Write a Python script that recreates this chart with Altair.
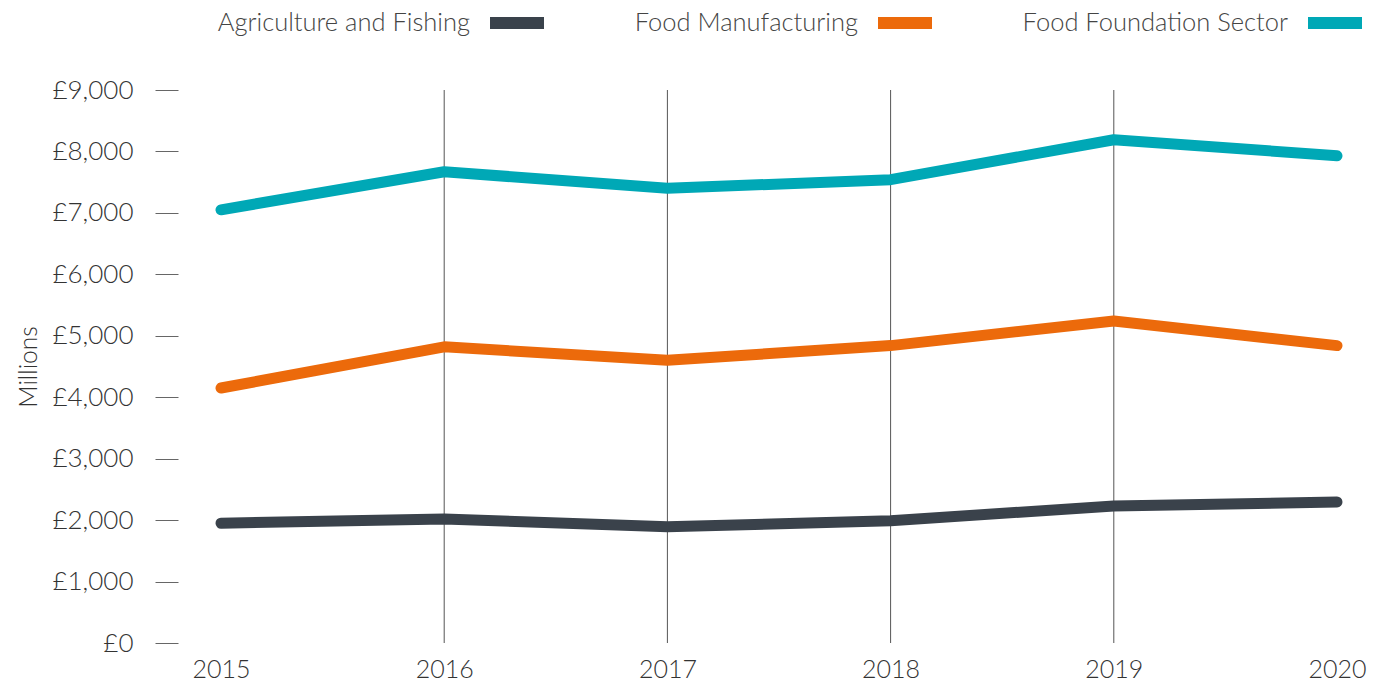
import altair as alt
import pandas as pd

years = [2015, 2016, 2017, 2018, 2019, 2020]
agri = [1950, 2020, 1890, 1990, 2230, 2295]
manu = [4150, 4820, 4600, 4840, 5240, 4840]
found = [7050, 7670, 7400, 7540, 8190, 7930]
series = ["Agriculture and Fishing", "Food Manufacturing", "Food Foundation Sector"]
colors = ["#3a424b", "#ec6a0b", "#00a8b6"]
grid_years = [2016, 2017, 2018, 2019]

rows = []
for name, vals in zip(series, [agri, manu, found]):
    for y, v in zip(years, vals):
        rows.append({"year": y, "value": v, "series": name})
df = pd.DataFrame(rows)
gdf = pd.DataFrame({"year": grid_years, "lo": [0] * 4, "hi": [9000] * 4})

FONT = "Lato"
W = 300

x = alt.X("year:Q", scale=alt.Scale(domain=[2015, 2020], nice=False, zero=False),
          axis=alt.Axis(values=years, format="d", title=None, grid=False, domain=False,
                        ticks=False, tickSize=0, labelPadding=14, labelFontSize=25,
                        labelFlush=False,
                        labelColor="#333333", labelFont=FONT, labelFontWeight=W))

grid = alt.Chart(gdf).mark_rule(color="#555555", strokeWidth=1).encode(
    x=alt.X("year:Q", scale=alt.Scale(domain=[2015, 2020], nice=False, zero=False)),
    y=alt.Y("lo:Q", scale=alt.Scale(domain=[0, 9000], nice=False)),
    y2="hi:Q",
)

lines = alt.Chart(df).mark_line(strokeWidth=11, strokeCap="round", strokeJoin="round").encode(
    x=x,
    y=alt.Y("value:Q", scale=alt.Scale(domain=[0, 9000], nice=False),
            axis=alt.Axis(values=list(range(0, 9001, 1000)),
                          labelExpr="'£' + format(datum.value, ',')", title="Millions",
                          grid=False, domain=False, ticks=True, tickSize=23, tickColor="#666666",
                          tickWidth=1, offset=43, labelPadding=22, labelFontSize=26,
                          labelColor="#333333", labelFont=FONT, labelFontWeight=W,
                          titleFont=FONT, titleFontWeight=W, titleFontSize=24.5,
                          titleColor="#333333", titlePadding=10)),
    color=alt.Color("series:N", scale=alt.Scale(domain=series, range=colors),
                    sort=series,
                    legend=alt.Legend(title=None, orient="none", direction="horizontal",
                                      legendX=263, legendY=-100,
                                      symbolType="stroke", symbolStrokeWidth=12,
                                      symbolSize=2916, labelAlign="right",
                                      labelOffset=alt.ExprRef("-80"),
                                      labelFontSize=25.5, labelFont=FONT, labelFontWeight=W,
                                      labelColor="#444444", columnPadding=66,
                                      labelLimit=400)),
)

chart = alt.layer(grid, lines).properties(
    width=1116, height=553,
    autosize=alt.AutoSizeParams(type="none"),
    padding={"left": 221, "top": 90, "right": 41, "bottom": 43},
).configure_view(stroke=None)

chart.save("out.html", embed_options={"renderer": "svg", "actions": False})
